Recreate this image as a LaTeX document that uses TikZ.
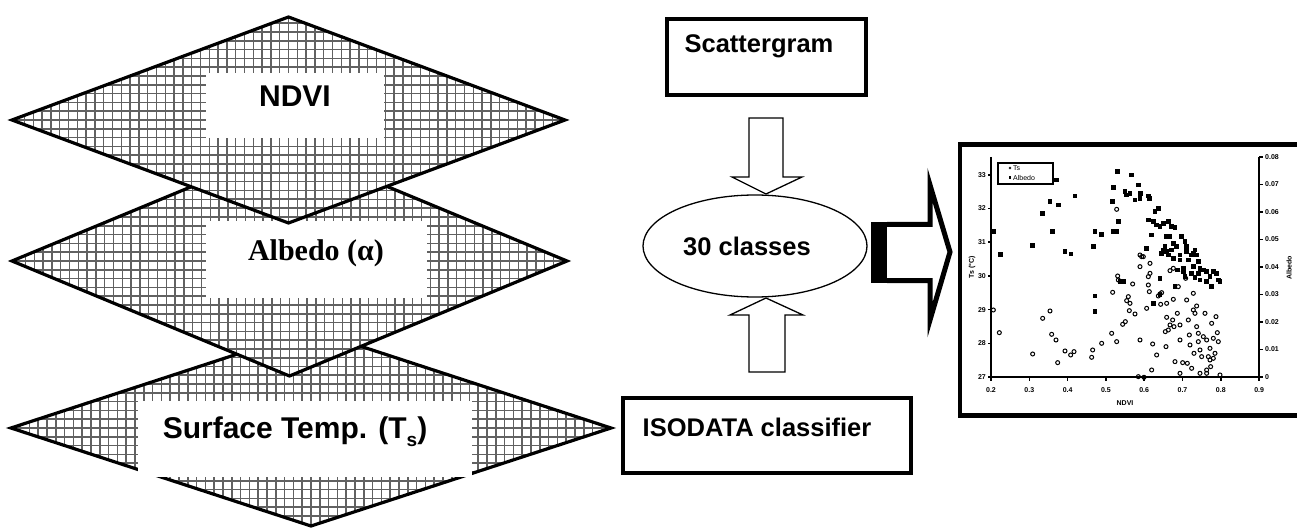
\documentclass[tikz,border=0pt]{standalone}
\usepackage{fontspec}
\setmainfont{Liberation Sans}
\newfontfamily\serifbold{Liberation Serif}
\usetikzlibrary{shapes.geometric}
\begin{document}
\begin{tikzpicture}[x=1pt,y=-1pt,
  hatch/.style={draw=black!62, line width=1.5pt},
  layer/.style={diamond, draw=black, line width=3.2pt, fill=white, inner sep=0pt, outer sep=0pt,
    path picture={\draw[hatch, step=8.8pt] (path picture bounding box.south west) grid (path picture bounding box.north east);}},
  whitebox/.style={fill=white, draw=none, inner sep=0pt, outer sep=0pt},
  bigtext/.style={font=\fontsize{30}{30}\selectfont\bfseries, inner sep=0pt},
  midtext/.style={font=\fontsize{25.5}{25.5}\selectfont\bfseries, inner sep=0pt},
  framebox/.style={draw=black, line width=3.5pt, inner sep=0pt, fill=white},
  blockarrow/.style={draw=black, line width=1.3pt, fill=white, line join=miter},
  ticklbl/.style={font=\fontsize{7}{7}\selectfont\bfseries, inner sep=0pt},
  circ/.style={draw=black, line width=1pt}
]
\useasboundingbox (0,0) rectangle (1297,529);
\fill[white] (0,0) rectangle (1297,529);

% ---- layers (bottom to top) ----
\node[layer, minimum width=600pt, minimum height=196pt] (surf) at (311,428) {};
\node[whitebox, minimum width=334pt, minimum height=76pt] (surfbox) at (305,439) {};
\node[bigtext] (surftxt) at (295,432) {Surface Temp. (T\raisebox{-0.28em}{\fontsize{19}{19}\selectfont s})};

\node[layer, minimum width=555pt, minimum height=230pt] (alb) at (289.5,261) {};
\node[whitebox, minimum width=221pt, minimum height=77pt] (albbox) at (316.5,259.5) {};
\node[bigtext, font=\fontsize{30}{30}\selectfont\serifbold\bfseries] (albtxt) at (316,253) {Albedo (α)};

\node[layer, minimum width=553pt, minimum height=206pt] (ndvi) at (288.5,120) {};
\node[whitebox, minimum width=178pt, minimum height=65pt] (ndvibox) at (295,105.5) {};
\node[bigtext] (ndvitxt) at (295,96) {NDVI};

% ---- middle column ----
\node[framebox, minimum width=199pt, minimum height=76pt] (scat) at (766.5,57) {};
\node[midtext] (scattxt) at (759,46) {Scattergram};

\node[ellipse, draw=black, line width=1.3pt, fill=white, minimum width=224pt, minimum height=102pt, inner sep=0pt] (ell) at (755,246) {};
\node[midtext] (elltxt) at (747,246) {30 classes};

\node[framebox, minimum width=288pt, minimum height=75pt] (iso) at (767,435.5) {};
\node[midtext] (isotxt) at (757,427) {ISODATA classifier};

% block arrows
\draw[blockarrow] (766,194) -- (732,177) -- (749,177) -- (749,118) -- (783,118) -- (783,177) -- (802,177) -- cycle;
\draw[blockarrow] (766,298) -- (730,315) -- (749,315) -- (749,372) -- (785,372) -- (785,315) -- (803,315) -- cycle;

% big right arrow
\fill[black] (871,222) rectangle (888,283);
\draw[line width=5pt, fill=white, line join=miter] (887,224.5) -- (930,224.5) -- (930,185) -- (950,252) -- (930,320) -- (930,280.5) -- (887,280.5);

% ---- chart ----
\draw[line width=4.5pt] (1305,144.5) -- (960,144.5) -- (960,415.5) -- (1305,415.5);
\draw[line width=2pt] (991,157) -- (991,377) -- (1259,377) -- (1259,157);
\foreach \i/\v in {0/0.2,1/0.3,2/0.4,3/0.5,4/0.6,5/0.7,6/0.8,7/0.9}{
  \draw[line width=1.5pt] ({991+38.3*\i},377) -- ++(0,4);
  \node[ticklbl] at ({991+38.3*\i},390) {\v};
}
\foreach \i/\v in {0/27,1/28,2/29,3/30,4/31,5/32,6/33}{
  \draw[line width=1.5pt] (991,{377-33.7*\i}) -- ++(-3,0);
  \node[ticklbl, anchor=east] at (986,{377-33.7*\i}) {\v};
}
\foreach \i/\v in {0/0,1/0.01,2/0.02,3/0.03,4/0.04,5/0.05,6/0.06,7/0.07,8/0.08}{
  \draw[line width=1.5pt] (1259,{377-27.5*\i}) -- ++(4,0);
  \node[ticklbl, anchor=west] at (1265,{377-27.5*\i}) {\v};
}
\node[ticklbl] (xlab) at (1125,403) {NDVI};
\node[ticklbl, rotate=90] (ylab) at (972,267) {Ts (°C)};
\node[ticklbl, rotate=90] (y2lab) at (1289,268) {Albedo};

\node[draw=black, line width=1.2pt, minimum width=55pt, minimum height=21pt, inner sep=0pt] (legend) at (1025.5,173.5) {};
\draw[line width=0.5pt] (1010,168) circle[radius=1pt];
\node[font=\fontsize{7}{7}\selectfont, inner sep=0pt, anchor=west] (legts) at (1013,168) {Ts};
\fill (1008.8,176.5) rectangle (1011.2,178.9);
\node[font=\fontsize{7}{7}\selectfont, inner sep=0pt, anchor=west] (legal) at (1013,177.5) {Albedo};

\begin{scope}[shift={(940,140)}, x=0.3333pt, y=-0.3333pt]
\foreach \px/\py in {160/275,182/343,278/317,308/220,330/185,338/275,355/195,350/120,375/335,393/342,405/168,460/320,465/468,465/275,485/283,465/515,520/275,530/275,518/185,520/142,533/95,535/245,540/425,550/425,555/155,560/165,570/160,575/105,585/180,595/135,600/175,602/160,620/325,625/168,628/175,635/285,625/240,640/245,645/215,655/205,650/255,660/260,670/250,685/245,695/260,705/262,680/290,690/290,660/415,665/340,675/320,685/345,695/330,700/310,710/320,720/345,725/290,735/305,740/335,745/360,740/320,755/345,760/340,765/330,770/345,775/365,720/360,730/385,760/380,775/400,780/385,790/390,800/395,810/410,820/395,830/400,835/420,840/425,815/440,800/425,780/420,765/412,755/400,735/410,712/390,700/355,705/440,660/465,640/490,680/335,670/330,730/395}{
  \fill (\px,\py) ++(-2.2pt,-2.2pt) rectangle ++(4.4pt,4.4pt);
}
\foreach \px/\py in {160/510,178/578,278/642,308/535,330/513,335/583,348/600,353/668,375/633,392/645,402/635,458/630,455/652,485/610,515/580,518/457,530/605,530/208,533/408,535/420,548/553,556/545,560/482,565/470,570/490,578/432,568/512,585/522,595/710,600/345,600/380,600/600,605/350,610/350,612/712,620/505,625/410,625/435,628/455,630/400,630/370,635/690,638/612,650/645,655/468,660/462,662/493,665/458,680/490,690/392,700/385,700/478,705/665,712/520,715/440,720/555,720/600,728/668,730/395,737/415,740/480,742/670,745/540,748/585,750/615,755/685,760/510,760/460,765/520,770/498,775/580,775/605,780/630,785/650,790/590,795/520,800/600,805/650,810/625,812/680,815/550,820/595,825/640,828/530,832/578,835/605,840/705,762/640,770/560,780/700,800/700,810/660,820/655,698/540,702/560,690/555,678/620,676/575,680/532,685/570,720/700,800/690}{
  \draw[circ] (\px,\py) circle[radius=2pt];
}
\end{scope}
\end{tikzpicture}
\end{document}
